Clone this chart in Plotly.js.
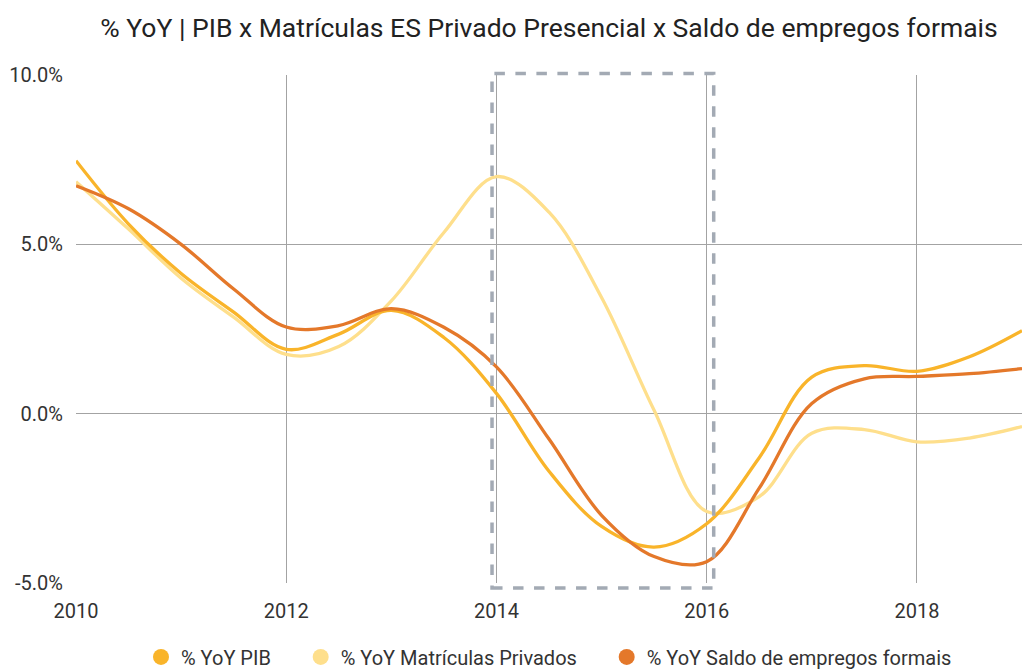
<!DOCTYPE html>
<html>
<head>
<meta charset="utf-8">
<script src="https://cdn.plot.ly/plotly-3.0.1.min.js"></script>
<style>html,body{margin:0;padding:0;background:#fff;}#chart{width:1025px;height:669px;}</style>
</head>
<body>
<div id="chart"></div>
<script>
const years = [2010, 2010.5, 2011, 2011.5, 2012, 2012.5, 2013, 2013.5, 2014, 2014.5, 2015, 2015.5, 2016, 2016.5, 2017, 2017.5, 2018, 2018.5, 2019];
const pib = [7.47, 5.6, 4.14, 3.0, 1.9, 2.35, 3.05, 2.25, 0.6, -1.7, -3.33, -3.94, -3.25, -1.3, 1.08, 1.42, 1.25, 1.68, 2.45];
const matriculas = [6.85, 5.45, 4.0, 2.85, 1.75, 1.98, 3.33, 5.35, 7.0, 5.95, 3.43, 0.1, -2.89, -2.45, -0.58, -0.47, -0.83, -0.72, -0.38];
const empregos = [6.73, 6.05, 5.0, 3.68, 2.56, 2.6, 3.1, 2.55, 1.38, -0.75, -3.0, -4.22, -4.37, -2.2, 0.3, 1.03, 1.1, 1.18, 1.33];
const seriesNames = ['% YoY PIB', '% YoY Matrículas Privados', '% YoY Saldo de empregos formais'];
const seriesColors = ['#F9B42A', '#FEDF8C', '#E4782A'];
const yTickVals = [-5, 0, 5, 10];
const yTickText = ['-5.0%', '0.0%', '5.0%', '10.0%'];
const xTickVals = [2010, 2012, 2014, 2016, 2018];
const highlight = [2014, 2016];

const seriesData = [pib, matriculas, empregos];
const traces = [];
// light series underneath, then PIB, then employment on top
[1, 0, 2].forEach(i => {
  traces.push({
    x: years, y: seriesData[i], type: 'scatter', mode: 'lines',
    line: {color: seriesColors[i], width: 3.3, shape: 'spline', smoothing: 1.0},
    showlegend: false, hoverinfo: 'skip'
  });
});
const pad = '\u00a0\u00a0\u00a0\u00a0\u00a0';
[0, 1, 2].forEach(i => {
  traces.push({
    x: [null], y: [null], type: 'scatter', mode: 'markers',
    name: seriesNames[i] + (i < 2 ? pad : ''),
    marker: {color: seriesColors[i], size: 19, symbol: 'circle'}, showlegend: true
  });
});

const layout = {
  width: 1025, height: 669,
  margin: {l: 76, r: 3, t: 75, b: 86},
  paper_bgcolor: '#fff', plot_bgcolor: '#fff',
  font: {family: 'Roboto, sans-serif', color: '#333', size: 20},
  title: {text: '% YoY | PIB x Matrículas ES Privado Presencial x Saldo de empregos formais',
          font: {family: 'Roboto, sans-serif', size: 26.5, color: '#222'},
          x: 0.5, xref: 'paper', xanchor: 'center', y: 0.958, yref: 'container', yanchor: 'middle'},
  xaxis: {range: [2010, 2019], tickvals: xTickVals, ticktext: xTickVals.map(String),
          showgrid: true, gridcolor: '#a3a3a3', gridwidth: 1, zeroline: false, showline: false,
          ticks: 'outside', ticklen: 10, tickcolor: 'rgba(0,0,0,0)',
          tickfont: {size: 20, color: '#333'}, fixedrange: true, automargin: false},
  yaxis: {range: [-5, 10], tickvals: yTickVals, ticktext: yTickText,
          showgrid: true, gridcolor: '#a3a3a3', gridwidth: 1, zeroline: false, showline: false,
          ticks: 'outside', ticklen: 8, tickcolor: 'rgba(0,0,0,0)',
          tickfont: {size: 20, color: '#333'}, fixedrange: true, automargin: false},
  legend: {orientation: 'h', x: 0.5, xanchor: 'center', xref: 'paper',
           y: 0.018, yref: 'container', yanchor: 'middle',
           font: {size: 20, color: '#333'}, itemwidth: 30},
  shapes: [{
    type: 'rect', xref: 'x', yref: 'paper', x0: highlight[0] - 0.042, x1: highlight[1] + 0.067,
    y0: -0.0098, y1: 1.003, line: {color: '#A3AAB4', width: 3.5, dash: 'dash'}, fillcolor: 'rgba(0,0,0,0)',
    layer: 'above'
  }]
};

Plotly.newPlot('chart', traces, layout, {displayModeBar: false, staticPlot: true});
</script>
</body>
</html>
